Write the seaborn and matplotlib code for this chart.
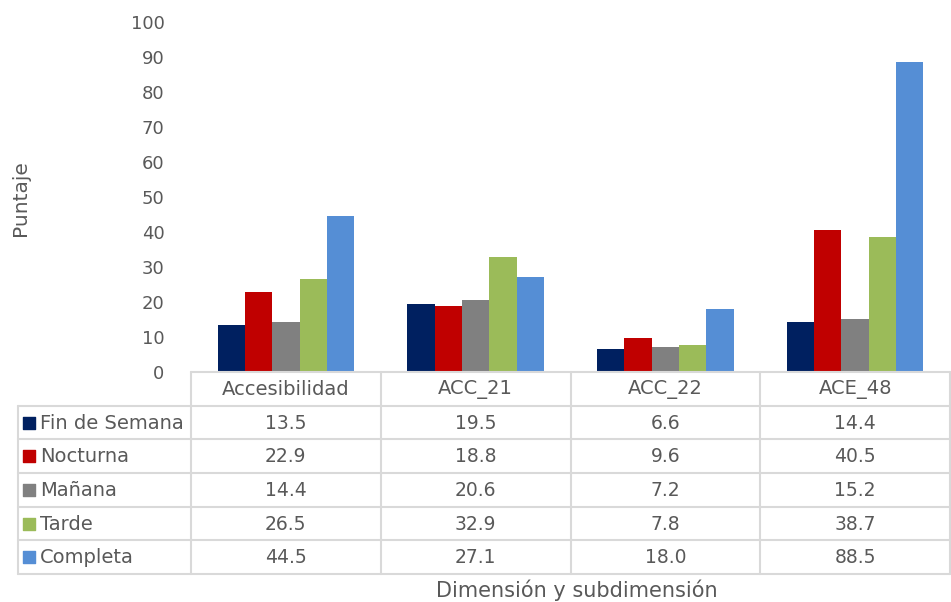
import pandas as pd
import numpy as np
import seaborn as sns
import matplotlib.pyplot as plt

categories = ["Accesibilidad", "ACC_21", "ACC_22", "ACE_48"]
series = ["Fin de Semana", "Nocturna", "Mañana", "Tarde", "Completa"]
fin_semana = [13.5, 19.5, 6.6, 14.4]
nocturna = [22.9, 18.8, 9.6, 40.5]
manana = [14.4, 20.6, 7.2, 15.2]
tarde = [26.5, 32.9, 7.8, 38.7]
completa = [44.5, 27.1, 18.0, 88.5]
colors = ["#002060", "#C00000", "#808080", "#9BBB59", "#558ED5"]

values = [fin_semana, nocturna, manana, tarde, completa]
df = pd.DataFrame(
    [(c, s, v) for s, vals in zip(series, values) for c, v in zip(categories, vals)],
    columns=["cat", "serie", "valor"],
)

sns.set_style("white")
plt.rcParams["font.family"] = ["DejaVu Sans"]
txt = "#595959"
grid_c = "#D9D9D9"
fs = 13

W, H = 951, 602
fig = plt.figure(figsize=(W / 100, H / 100), dpi=100)

# main bar axes
x0, x1, y_top, y_zero = 191, 950, 22, 372
ax = fig.add_axes([x0 / W, (H - y_zero) / H, (x1 - x0) / W, (y_zero - y_top) / H])
sns.barplot(data=df, x="cat", y="valor", hue="serie", palette=colors,
            width=0.72, ax=ax, legend=False, saturation=1, edgecolor="none")
ax.set_ylim(0, 100)
ax.set_xlim(-0.5, 3.5)
ax.set_yticks(range(0, 101, 10))
ax.set_xticks([])
ax.set_xlabel("")
ax.set_ylabel("")
ax.tick_params(axis="y", length=0, pad=19, labelsize=fs, labelcolor=txt)
for sp in ax.spines.values():
    sp.set_visible(False)

# data table below the axes
t_left, t_bottom = 18, 574
tab = fig.add_axes([t_left / W, (H - t_bottom) / H, (x1 - t_left) / W, (t_bottom - y_zero) / H])
left_units = -0.5 - (x0 - t_left) / (x1 - x0) * len(categories)
tab.set_xlim(left_units, len(categories) - 0.5)
nrows = len(series) + 1
tab.set_ylim(nrows, 0)
tab.axis("off")

lw = 1.5
edges = [i - 0.5 for i in range(len(categories) + 1)]
# horizontal lines
tab.plot([-0.5, edges[-1]], [0, 0], color=grid_c, lw=lw, clip_on=False)
for r in range(1, nrows + 1):
    tab.plot([left_units, edges[-1]], [r, r], color=grid_c, lw=lw, clip_on=False)
# vertical lines
for e in edges:
    tab.plot([e, e], [0, nrows], color=grid_c, lw=lw, clip_on=False)
tab.plot([left_units, left_units], [1, nrows], color=grid_c, lw=lw, clip_on=False)

for i, c in enumerate(categories):
    tab.text(i, 0.52, c, ha="center", va="center", fontsize=14, color=txt)
for r, (s, vals, col) in enumerate(zip(series, values, colors), start=1):
    tab.scatter([left_units + 0.06], [r + 0.5], marker="s", s=70, color=col, clip_on=False)
    tab.text(left_units + 0.115, r + 0.52, s, ha="left", va="center", fontsize=14, color=txt)
    for i, v in enumerate(vals):
        tab.text(i, r + 0.52, f"{v:.1f}", ha="center", va="center", fontsize=13.5, color=txt)

fig.text(577 / W, 1 - 590 / H, "Dimensión y subdimensión", ha="center", va="center",
         fontsize=15, color=txt)
fig.text(20 / W, 1 - 198 / H, "Puntaje", ha="center", va="center", rotation=90,
         fontsize=14.5, color=txt)

fig.savefig("out.png", dpi=100)
